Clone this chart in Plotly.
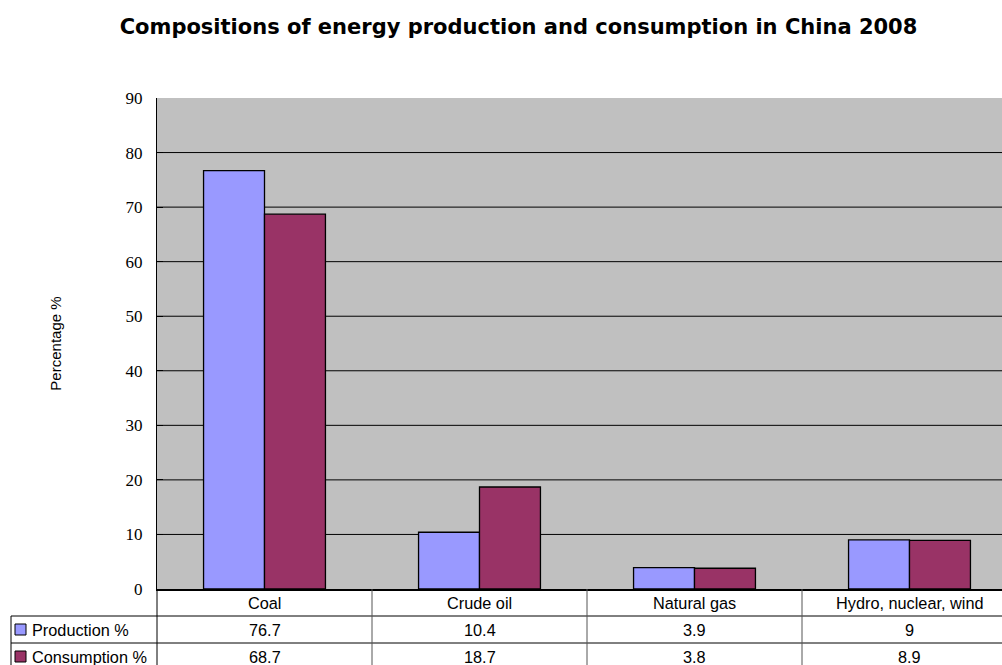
import plotly.graph_objects as go

# Energy shares for China, 2008 (percent)
categories = ["Coal", "Crude oil", "Natural gas", "Hydro, nuclear, wind"]
production = [76.7, 10.4, 3.9, 9]
consumption = [68.7, 18.7, 3.8, 8.9]
series_names = ["Production %", "Consumption %"]
series_colors = ["#9999FF", "#993366"]
y_ticks = [0, 10, 20, 30, 40, 50, 60, 70, 80, 90]

W, H = 1002, 665
L, R, T, B = 157, 0, 98, 76
plot_w = W - L - R
plot_h = H - T - B
cat_px = 215  # width of one category column in pixels


def px_x(px):
    return (px - L) / plot_w


def px_y(py):
    return (H - B - py) / plot_h


x_idx = list(range(len(categories)))
fig = go.Figure()
for name, vals, col in zip(series_names, [production, consumption], series_colors):
    fig.add_trace(go.Bar(
        x=x_idx, y=vals, name=name,
        marker=dict(color=col, line=dict(color="black", width=1.3)),
        showlegend=False,
    ))

shapes = []
# horizontal grid lines (none at the top edge)
for v in y_ticks[1:-1]:
    shapes.append(dict(type="line", xref="paper", yref="y", x0=0, x1=1, y0=v, y1=v,
                       line=dict(color="black", width=1), layer="below"))

# data table under the plot
row_lines_py = [616, 643]
for py in row_lines_py:
    shapes.append(dict(type="line", xref="paper", yref="paper",
                       x0=px_x(11), x1=1, y0=px_y(py), y1=px_y(py),
                       line=dict(color="black", width=1)))
shapes.append(dict(type="line", xref="paper", yref="paper",
                   x0=px_x(11), x1=px_x(11), y0=px_y(616), y1=px_y(H + 2),
                   line=dict(color="black", width=1)))
shapes.append(dict(type="line", xref="paper", yref="paper",
                   x0=0, x1=0, y0=0, y1=px_y(H + 2),
                   line=dict(color="black", width=1)))
for i in range(len(categories) - 1):
    shapes.append(dict(type="line", xref="x", yref="paper",
                       x0=i + 0.5, x1=i + 0.5, y0=0, y1=px_y(H + 2),
                       line=dict(color="#555555", width=1)))

# legend keys in the table's first column
row_centers_py = [602.5, 629.5, 656.5]
for k, col in enumerate(series_colors):
    cy = row_centers_py[k + 1]
    shapes.append(dict(type="rect", xref="paper", yref="paper",
                       x0=px_x(15), x1=px_x(26), y0=px_y(cy + 5.5), y1=px_y(cy - 5.5),
                       fillcolor=col, line=dict(color="black", width=1)))

annotations = []
tfont = dict(family="Liberation Sans, Arial, sans-serif", size=16.3, color="black")
for i, c in enumerate(categories):
    annotations.append(dict(x=i, y=px_y(row_centers_py[0]), xref="x", yref="paper",
                            text=c, showarrow=False, font=tfont,
                            xanchor="center", yanchor="middle"))
for k, vals in enumerate([production, consumption]):
    cy = px_y(row_centers_py[k + 1])
    annotations.append(dict(x=px_x(30), y=cy, xref="paper", yref="paper",
                            text=series_names[k], showarrow=False, font=tfont,
                            xanchor="left", yanchor="middle"))
    for i, v in enumerate(vals):
        annotations.append(dict(x=i, y=cy, xref="x", yref="paper",
                                text=f"{v:g}", showarrow=False, font=tfont,
                                xanchor="center", yanchor="middle"))

fig.update_layout(
    width=W, height=H,
    margin=dict(l=L, r=R, t=T, b=B, pad=0),
    paper_bgcolor="white",
    plot_bgcolor="#C0C0C0",
    barmode="group",
    bargap=0.433,
    bargroupgap=0,
    title=dict(text="<b>Compositions of energy production and consumption in China 2008</b>",
               x=518.5 / W, xanchor="center", y=1 - 27 / H, yanchor="middle",
               font=dict(family="DejaVu Sans, Verdana, sans-serif", size=21, color="black")),
    xaxis=dict(range=[-0.5, -0.5 + plot_w / cat_px], showticklabels=False,
               showgrid=False, zeroline=False, showline=True, linecolor="black",
               linewidth=1.5, ticks=""),
    yaxis=dict(range=[0, 90], tickvals=y_ticks, showgrid=False, zeroline=False,
               showline=True, linecolor="black", linewidth=1,
               ticks="inside", ticklen=6, tickcolor="black",
               ticklabelstandoff=10,
               tickfont=dict(family="Liberation Serif, Times New Roman, serif", size=17,
                             color="black"),
               title=dict(text="Percentage %", standoff=60,
                          font=dict(family="Liberation Sans, Arial, sans-serif", size=15,
                                    color="black"))),
    shapes=shapes,
    annotations=annotations,
)

fig.write_html("out.html")
